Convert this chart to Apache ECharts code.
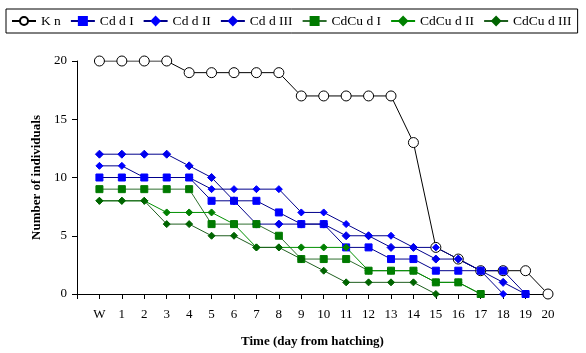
<!DOCTYPE html>
<html>
<head>
<meta charset="utf-8">
<title>Number of individuals</title>
<script src="https://cdn.jsdelivr.net/npm/echarts@6/dist/echarts.min.js"></script>
<style>
  html, body { margin: 0; padding: 0; background: #fff; }
  #chart { width: 586px; height: 353px; }
</style>
</head>
<body>
<div id="chart"></div>
<script>
// 天数: W = 0
const days = ['W', '1', '2', '3', '4', '5', '6', '7', '8', '9', '10',
  '11', '12', '13', '14', '15', '16', '17', '18', '19', '20']
const yTicks = [0, 5, 10, 15, 20]

const kn = [20, 20, 20, 20, 19, 19, 19, 19, 19, 17, 17, 17, 17, 17, 13, 4, 3, 2, 2, 2, 0]
const cdI = [10, 10, 10, 10, 10, 8, 8, 8, 7, 6, 6, 4, 4, 3, 3, 2, 2, 2, 2, 0]
const cdII = [11, 11, 10, 10, 10, 9, 9, 9, 9, 7, 7, 6, 5, 5, 4, 4, 3, 2, 0]
const cdIII = [12, 12, 12, 12, 11, 10, 8, 6, 6, 6, 6, 5, 5, 4, 4, 3, 3, 2, 1, 0]
const cdcuI = [9, 9, 9, 9, 9, 6, 6, 6, 5, 3, 3, 3, 2, 2, 2, 1, 1, 0]
const cdcuII = [8, 8, 8, 7, 7, 7, 6, 4, 4, 4, 4, 4, 2, 2, 2, 1, 1, 0]
const cdcuIII = [8, 8, 8, 6, 6, 5, 5, 4, 4, 3, 2, 1, 1, 1, 1, 0]

const font = 'Liberation Serif, Times New Roman, serif'

function pairs(values) {
  return values.map((v, i) => [i, v])
}

function makeSeries(name, values, symbol, size, lineColor, markColor, borderColor) {
  return {
    name: name,
    type: 'line',
    data: pairs(values),
    symbol: symbol,
    symbolSize: size,
    showAllSymbol: true,
    lineStyle: { color: lineColor, width: 1 },
    itemStyle: { color: markColor, borderColor: borderColor || markColor, borderWidth: 1 },
    emphasis: { disabled: true }
  }
}

const chart = echarts.init(document.getElementById('chart'), null, { renderer: 'canvas' })

chart.setOption({
  animation: false,
  backgroundColor: '#fff',
  textStyle: { fontFamily: font, color: '#000' },
  legend: {
    left: 6,
    top: 9,
    width: 574,
    padding: [5, 6, 5, 5],
    itemGap: 9,
    itemWidth: 24,
    itemHeight: 10,
    borderColor: '#000',
    borderWidth: 1,
    textStyle: { fontFamily: font, fontSize: 13.5, color: '#000' },
    data: ['K n', 'Cd d I', 'Cd d II', 'Cd d III', 'CdCu d I', 'CdCu d II', 'CdCu d III']
  },
  grid: { left: 77, right: 38, top: 61, bottom: 59 },
  xAxis: {
    type: 'value',
    min: -1,
    max: 20,
    interval: 1,
    name: 'Time (day from hatching)',
    nameLocation: 'middle',
    nameGap: 41,
    nameTextStyle: { fontFamily: font, fontSize: 13, fontWeight: 'bold', color: '#000' },
    axisLine: { lineStyle: { color: '#000', width: 1 } },
    axisTick: { length: 5, lineStyle: { color: '#000' } },
    axisLabel: {
      margin: 14,
      fontSize: 13,
      color: '#000',
      fontFamily: font,
      formatter: v => (v < 0 ? '' : days[v])
    },
    splitLine: { show: false }
  },
  yAxis: {
    type: 'value',
    min: yTicks[0],
    max: yTicks[yTicks.length - 1],
    interval: 5,
    name: 'Number of individuals',
    nameLocation: 'middle',
    nameGap: 33,
    nameTextStyle: { fontFamily: font, fontSize: 13, fontWeight: 'bold', color: '#000' },
    axisLine: { show: true, onZero: false, lineStyle: { color: '#000', width: 1 } },
    axisTick: { show: true, length: 5, lineStyle: { color: '#000' } },
    axisLabel: { margin: 10, fontSize: 13, color: '#000', fontFamily: font },
    splitLine: { show: false }
  },
  series: [
    makeSeries('K n', kn, 'circle', 10, '#000', '#fff', '#000'),
    makeSeries('Cd d I', cdI, 'rect', 7, '#00008b', '#0000ff'),
    makeSeries('Cd d II', cdII, 'diamond', 7, '#00008b', '#0000ff'),
    makeSeries('Cd d III', cdIII, 'diamond', 8, '#00008b', '#0000ee'),
    makeSeries('CdCu d I', cdcuI, 'rect', 7, '#2f6f2f', '#007a00'),
    makeSeries('CdCu d II', cdcuII, 'diamond', 7, '#009000', '#008000'),
    makeSeries('CdCu d III', cdcuIII, 'diamond', 7, '#1f5f1f', '#006400')
  ]
})
</script>
</body>
</html>
